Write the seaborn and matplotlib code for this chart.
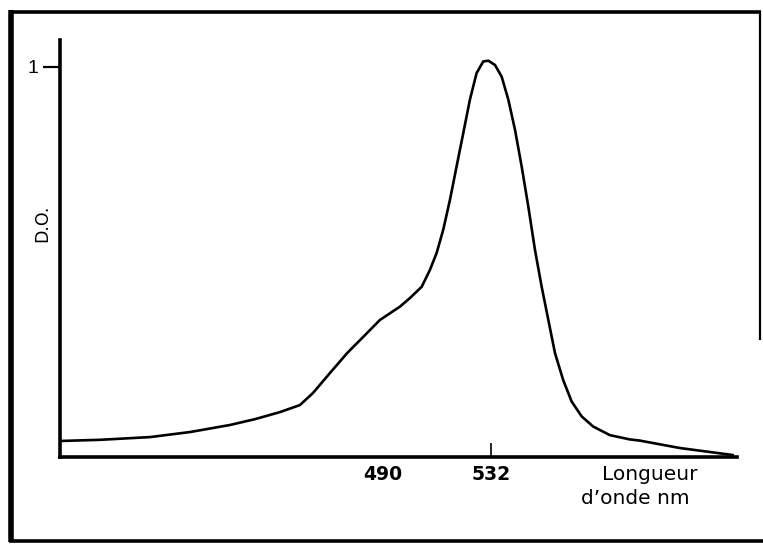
import matplotlib
matplotlib.use("Agg")
import matplotlib.pyplot as plt
import seaborn as sns
import pandas as pd
from matplotlib.lines import Line2D

# Data
wavelength_nm = [364.0, 379.6, 399.1, 414.8, 430.3, 440.1, 449.8, 457.6, 462.7, 469.3,
                 476.0, 482.2, 488.8, 496.6, 500.5, 505.1, 508.3, 510.9, 513.5, 516.1,
                 518.7, 521.3, 523.9, 526.5, 529.1, 531.1, 533.7, 536.3, 538.9, 541.5,
                 544.1, 546.7, 549.3, 551.9, 554.5, 557.1, 560.3, 563.6, 567.5, 572.0,
                 578.5, 586.3, 590.2, 605.8, 626.5]
optical_density = [0.041, 0.044, 0.051, 0.064, 0.082, 0.097, 0.115, 0.133, 0.164, 0.215,
                   0.266, 0.307, 0.351, 0.385, 0.407, 0.436, 0.479, 0.522, 0.582, 0.658,
                   0.744, 0.829, 0.915, 0.983, 1.013, 1.015, 1.004, 0.974, 0.915, 0.838,
                   0.744, 0.641, 0.530, 0.436, 0.351, 0.266, 0.197, 0.142, 0.104, 0.078,
                   0.056, 0.045, 0.042, 0.023, 0.005]
x_tick_values = [490, 532]
x_tick_labels = ["490", "532"]
y_tick_values = [1]
y_tick_labels = ["1"]

df = pd.DataFrame({"nm": wavelength_nm, "do": optical_density})

sns.set_style("white")
plt.rcParams["font.family"] = ["Liberation Sans", "DejaVu Sans"]
plt.rcParams["text.color"] = "black"
plt.rcParams["xtick.color"] = "black"
plt.rcParams["ytick.color"] = "black"

W, H = 763, 545
fig = plt.figure(figsize=(W / 100, H / 100), dpi=100)
ax = fig.add_axes([60 / W, 1 - 457 / H, (737 - 60) / W, (457 - 40) / H])

sns.lineplot(data=df, x="nm", y="do", ax=ax, color="black", linewidth=1.9,
             estimator=None, sort=False)

ax.set_xlim(364.0, 628.1)
ax.set_ylim(0, 1.068)
ax.set_xlabel("")
ax.set_ylabel("")

for s in ["top", "right"]:
    ax.spines[s].set_visible(False)
for s in ["left", "bottom"]:
    ax.spines[s].set_visible(True)
    ax.spines[s].set_linewidth(2.6)
    ax.spines[s].set_color("black")

ax.set_xticks(x_tick_values)
ax.set_xticklabels(x_tick_labels, fontsize=13.5, fontweight="bold",
                   family=["DejaVu Sans"])
ax.tick_params(axis="x", bottom=True, direction="in", length=10, width=1.2, pad=6,
               labelcolor="black")
ax.xaxis.get_major_ticks()[0].tick1line.set_visible(False)

ax.set_yticks(y_tick_values)
ax.set_yticklabels(y_tick_labels, fontsize=14)
ax.tick_params(axis="y", left=True, direction="out", length=12.5, width=1.6, pad=3,
               labelcolor="black")

fig.text(602 / W, 1 - 474 / H, "Longueur", fontsize=14.5, ha="left", va="center",
         family=["DejaVu Sans"])
fig.text(581 / W, 1 - 498 / H, "d\u2019onde nm", fontsize=14.5, ha="left", va="center",
         family=["DejaVu Sans"])
fig.text(42 / W, 1 - 223 / H, "D.O.", fontsize=12.5, rotation=90, ha="center", va="center",
         family=["DejaVu Sans"])

# Scanned frame around the figure
def fl(x0, y0, x1, y1, lw):
    fig.add_artist(Line2D([x0 / W, x1 / W], [1 - y0 / H, 1 - y1 / H],
                          transform=fig.transFigure, color="black", linewidth=lw,
                          solid_capstyle="butt"))

fl(11, 10, 11, 542, 4.0)
fl(9, 12, 761, 12, 2.6)
fl(9, 541, 763, 541, 2.6)
fl(760, 11, 760, 340, 1.6)

fig.savefig("out.png", dpi=100, facecolor="white")
